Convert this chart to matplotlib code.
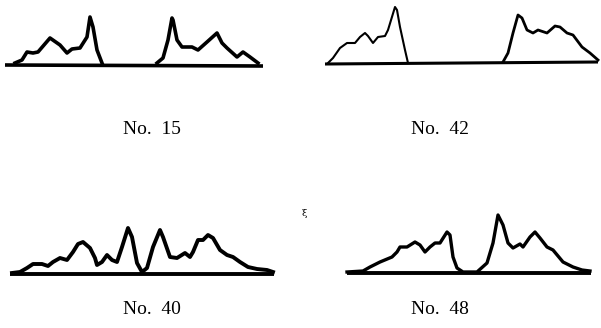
import matplotlib
matplotlib.use("Agg")
import matplotlib.pyplot as plt

# traced profiles (picture coordinates, y grows downward)
p15_lx = [15, 22, 27, 33, 38, 50, 60, 67, 72, 80, 87, 90, 93, 97, 102]
p15_ly = [63, 60, 52, 53, 52, 38, 45, 53, 49, 48, 37, 17, 27, 50, 63]
p15_rx = [157, 163, 168, 172, 173, 177, 182, 192, 198, 207, 217, 222, 227, 237, 243, 250, 258]
p15_ry = [63, 58, 40, 18, 20, 40, 47, 47, 50, 42, 33, 43, 48, 57, 52, 57, 63]
p15_base = ([5, 263], [65, 66])

p42_lx = [328, 333, 340, 347, 355, 360, 365, 368, 373, 378, 385, 388, 395, 397, 400, 405, 408]
p42_ly = [63, 58, 48, 43, 43, 37, 33, 36, 43, 37, 36, 30, 7, 10, 27, 50, 63]
p42_rx = [503, 508, 513, 518, 522, 527, 533, 538, 547, 555, 560, 567, 573, 582, 590, 598]
p42_ry = [62, 53, 33, 15, 18, 30, 33, 30, 33, 26, 27, 33, 35, 47, 53, 60]
p42_base = ([325, 598], [64, 62])

p40_x = [12, 20, 27, 33, 42, 48, 53, 60, 67, 73, 78, 83, 90, 95, 97, 102, 107, 112, 117, 122,
         128, 132, 137, 142, 147, 153, 160, 163, 170, 177, 185, 190, 193, 198, 203, 208, 213,
         220, 227, 233, 240, 248, 257, 267, 273]
p40_y = [273, 272, 268, 264, 264, 266, 262, 258, 260, 252, 244, 242, 248, 258, 265, 262, 255,
         260, 262, 247, 228, 237, 263, 272, 268, 247, 230, 237, 257, 258, 253, 257, 252, 240,
         240, 235, 238, 250, 255, 257, 262, 267, 269, 270, 272]
p40_base = ([10, 274], [274, 274])

p48_x = [347, 363, 370, 380, 392, 397, 400, 407, 415, 420, 425, 430, 435, 440, 447, 450, 453,
         457, 463, 477, 487, 493, 498, 503, 508, 513, 520, 523, 530, 535, 540, 547, 553, 563,
         573, 582, 590]
p48_y = [272, 271, 267, 262, 257, 252, 247, 247, 242, 245, 252, 247, 243, 243, 232, 235, 257,
         268, 272, 272, 263, 243, 215, 225, 243, 248, 244, 247, 237, 232, 238, 247, 250, 262,
         267, 270, 271]
p48_base = ([347, 591], [273, 273])

labels = ["No.  15", "No.  42", "No.  40", "No.  48"]
label_x = [152, 440, 152, 440]
label_y = [130, 130, 309, 309]

fig = plt.figure(figsize=(6.01, 3.28), dpi=100)
ax = fig.add_axes([0, 0, 1, 1])
ax.set_xlim(0, 601)
ax.set_ylim(328, 0)
ax.axis("off")

k = "black"
ax.plot(*p15_base, color=k, lw=2.6, solid_capstyle="butt")
ax.plot(p15_lx, p15_ly, color=k, lw=2.6, solid_joinstyle="round")
ax.plot(p15_rx, p15_ry, color=k, lw=2.6, solid_joinstyle="round")

ax.plot(*p42_base, color=k, lw=2.2, solid_capstyle="butt")
ax.plot(p42_lx, p42_ly, color=k, lw=1.5, solid_joinstyle="round")
ax.plot(p42_rx, p42_ry, color=k, lw=2.0, solid_joinstyle="round")

ax.plot(*p40_base, color=k, lw=2.8, solid_capstyle="butt")
ax.plot(p40_x, p40_y, color=k, lw=2.8, solid_joinstyle="round")

ax.plot(*p48_base, color=k, lw=2.8, solid_capstyle="butt")
ax.plot(p48_x, p48_y, color=k, lw=2.4, solid_joinstyle="round")

for t, x, y in zip(labels, label_x, label_y):
    ax.text(x, y, t, ha="center", va="center", fontsize=14, family="Liberation Serif")

ax.text(304, 213, "ξ", ha="center", va="center", fontsize=7, family="DejaVu Serif")

fig.savefig("out.png", dpi=100)
